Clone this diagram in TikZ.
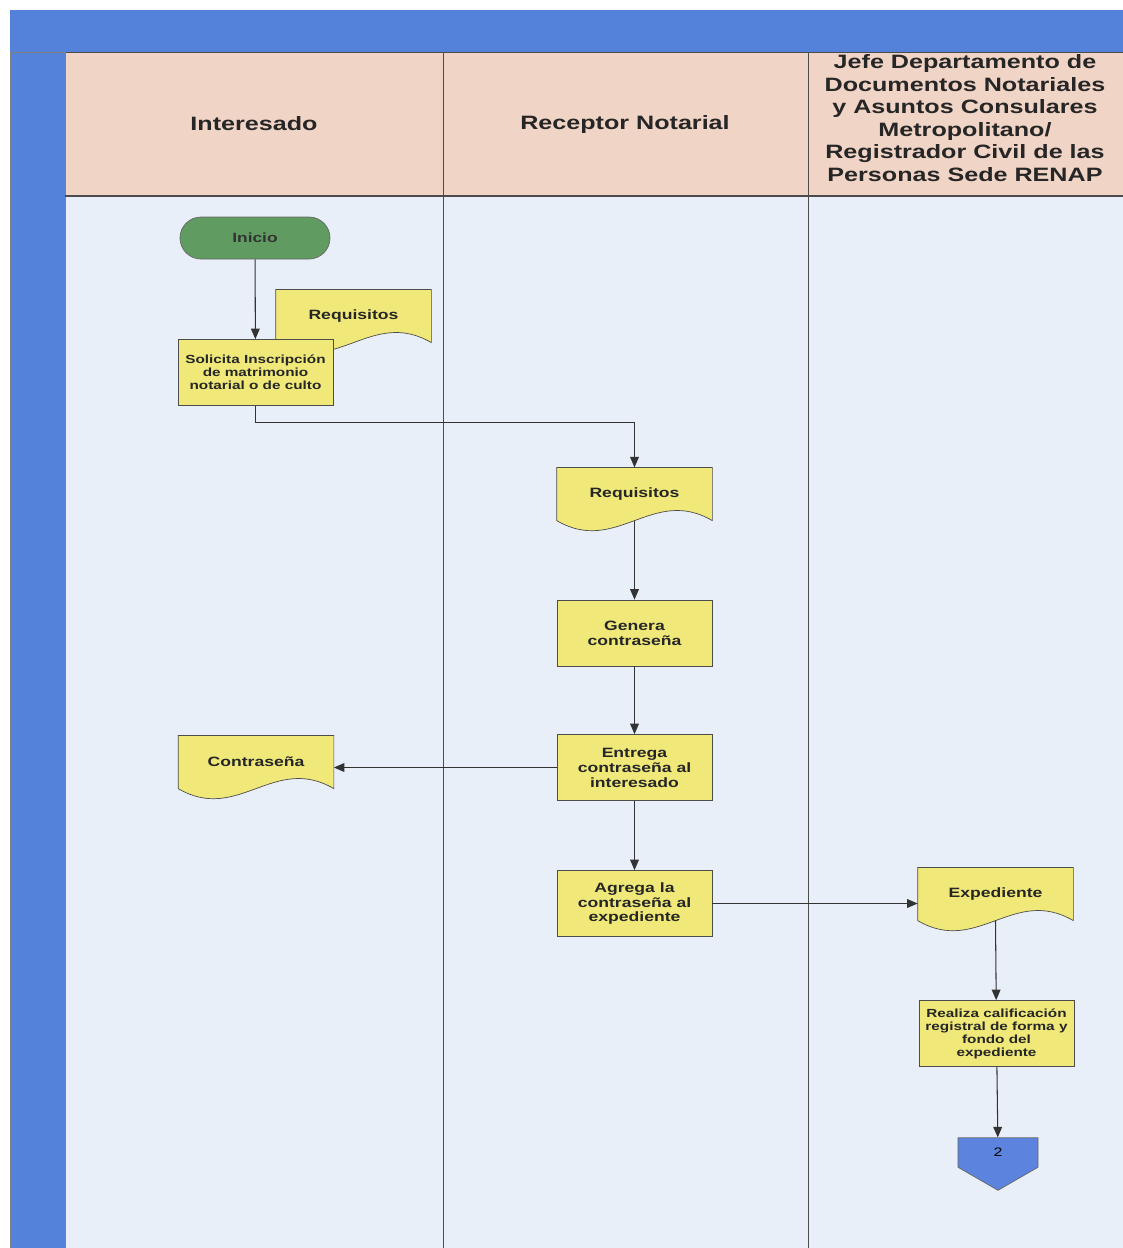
\documentclass[tikz,border=0pt]{standalone}
\usepackage{fontspec}
\setmainfont{Liberation Sans}[FakeStretch=1.3]
\usepackage{tikz}
\usetikzlibrary{positioning}
\usetikzlibrary{shapes.symbols}
\usetikzlibrary{arrows.meta}

\definecolor{barblue}{RGB}{84,130,218}
\definecolor{headpeach}{RGB}{240,212,198}
\definecolor{lanebg}{RGB}{233,239,248}
\definecolor{boxyellow}{RGB}{240,233,122}
\definecolor{startgreen}{RGB}{96,156,98}
\definecolor{offblue}{RGB}{92,132,222}

\pgfdeclarelayer{lanes}
\pgfdeclarelayer{docs}
\pgfsetlayers{lanes,docs,main}

\tikzset{
  lanetitle/.style={align=center, text=black!85, font=\bfseries\fontsize{11}{12.8}\selectfont},
  proc/.style={draw=black!70, fill=boxyellow, minimum width=3.1cm, minimum height=1.32cm,
    align=center, text=black!85, font=\bfseries\fontsize{7.7}{8.5}\selectfont},
  proctight/.style={proc, font=\bfseries\fontsize{6.7}{7.4}\selectfont},
  docbox/.style={minimum width=3.1cm, minimum height=1.05cm, align=center,
    text=black!85, font=\bfseries\fontsize{7.7}{8.5}\selectfont},
  docline/.style={draw=black!70, fill=boxyellow},
  startend/.style={draw=black!60, fill=startgreen, rounded corners=0.42cm,
    minimum width=3cm, minimum height=0.84cm, text=black!80,
    font=\bfseries\fontsize{7.6}{8.5}\selectfont},
  offpage/.style={signal, signal to=south, signal from=nowhere, signal pointer angle=120,
    draw=black!60, fill=offblue, minimum width=1.6cm, minimum height=0.66cm,
    inner sep=1pt, font=\fontsize{7}{8}\selectfont},
  flow/.style={-{Triangle[length=6pt,width=5pt]}, draw=black!80, line width=0.6pt}
}

\begin{document}
\begin{tikzpicture}

\useasboundingbox (0,0) rectangle (22.46,-24.96);

% lanes
\begin{pgfonlayer}{lanes}
\fill [white] (0,0) rectangle (22.46,-24.96);
\fill [lanebg] (1.3,-3.92) rectangle (22.46,-24.96);
\filldraw [fill=headpeach, draw=black!70] (1.3,-1.04) rectangle (22.46,-3.92);
\fill [barblue] (0.2,-0.2) rectangle (22.46,-1.04);
\filldraw [fill=barblue, draw=black!50] (0.2,-1.04) rectangle (1.3,-24.96);
\draw [black!70] (8.86,-1.04) -- (8.86,-24.96);
\draw [black!70] (16.16,-1.04) -- (16.16,-24.96);
\draw [black!70, line width=0.8pt] (1.3,-3.92) -- (22.46,-3.92);
\end{pgfonlayer}

\node[lanetitle] (t1) at (5.08,-2.48) {Interesado};
\node[lanetitle] (t2) at (12.5,-2.48) {Receptor Notarial};
\node[lanetitle] (t3) at (19.3,-2.36) {Jefe Departamento de\\Documentos Notariales\\y Asuntos Consulares\\Metropolitano/\\Registrador Civil de las\\Personas Sede RENAP};

% Interesado
\node[startend] (inicio) at (5.1,-4.76) {Inicio};
\node[docbox] (req1) at (7.07,-6.32) {Requisitos};
\node[proctight] (sol) at (5.11,-7.45) {Solicita Inscripción\\de matrimonio\\notarial o de culto};
\node[docbox] (con) at (5.12,-15.24) {Contraseña};

% Receptor Notarial
\node[docbox] (req2) at (12.69,-9.88) {Requisitos};
\node[proc] (gen) at (12.69,-12.66) {Genera\\contraseña};
\node[proc] (ent) at (12.69,-15.35) {Entrega\\contraseña al\\interesado};
\node[proc] (agr) at (12.69,-18.07) {Agrega la\\contraseña al\\expediente};

% Jefe / Registrador
\node[docbox] (exp) at (19.91,-17.88) {Expediente};
\node[proctight] (rea) at (19.93,-20.67) {Realiza calificación\\registral de forma y\\fondo del\\expediente};
\node[offpage] (off2) at (19.96,-23.05) {\raisebox{-3pt}{2}};

% document shapes
\begin{pgfonlayer}{docs}
\foreach \d in {req1,req2,con,exp}
  \filldraw [docline] (\d.south west) -- (\d.north west) -- (\d.north east) -- (\d.south east)
    .. controls +(-1.2,0.7) and +(1.2,-0.7) .. (\d.south west) -- cycle;
\end{pgfonlayer}

% connectors
\draw [flow] (inicio) -- (sol);
\draw [flow] (sol.south) -- ++(0,-0.34) -| (req2.north);
\draw [flow] (req2.south) -- (gen);
\draw [flow] (gen) -- (ent);
\draw [flow] (ent.west) -- (ent.west -| con.east);
\draw [flow] (ent) -- (agr);
\draw [flow] (agr.east) -- (agr.east -| exp.west);
\draw [flow] (exp.south) -- (rea);
\draw [flow] (rea) -- (off2);

\end{tikzpicture}
\end{document}
